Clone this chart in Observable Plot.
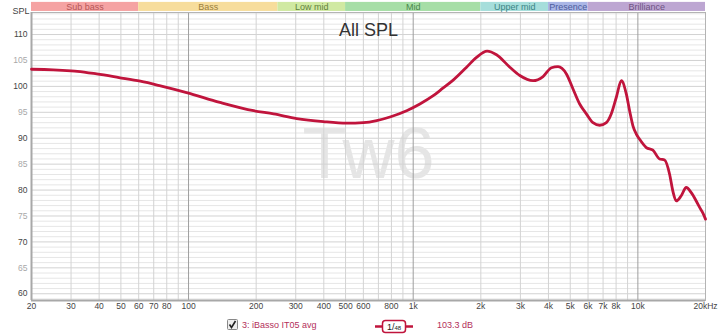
<!DOCTYPE html>
<html>
<head>
<meta charset="utf-8">
<script src="https://cdn.jsdelivr.net/npm/d3@7"></script>
<script src="https://cdn.jsdelivr.net/npm/@observablehq/plot@0.6"></script>
<style>
  body { margin: 0; background: #fff; font-family: "Liberation Sans", Arial, sans-serif; }
  #wrap { position: relative; width: 720px; height: 336px; overflow: hidden; }
  #legend { position: absolute; left: 0; top: 0; width: 720px; height: 336px; pointer-events: none; }
  .lg { position: absolute; font-size: 9px; color: #b3305a; white-space: nowrap; }
</style>
</head>
<body>
<div id="wrap"></div>
<script>
// ---- data ----
const freq = [20, 25, 30, 32, 39, 49, 61, 75, 98, 138, 195, 239, 303, 398, 506, 600, 688, 788, 935, 1071,
  1228, 1360, 1506, 1728, 1914, 2134, 2349, 2692, 2982, 3416, 3784, 4124, 4412, 4808, 5144, 5508, 5900,
  6312, 6762, 7240, 7617, 8020, 8441, 8886, 9188, 9506, 9841, 10178, 10900, 11666, 12492, 13148, 13836,
  14312, 14822, 15596, 16418, 17283, 18186, 18808, 19456, 20000];
const spl = [103.3, 103.2, 103.0, 102.9, 102.4, 101.7, 101.0, 100.1, 98.8, 96.9, 95.3, 94.7, 93.8, 93.2, 92.9,
  93.0, 93.4, 94.1, 95.3, 96.6, 98.2, 99.7, 101.2, 103.7, 105.6, 106.8, 106.1, 103.7, 102.1, 101.1, 101.9,
  103.6, 103.8, 102.4, 99.5, 96.6, 94.7, 93.0, 92.5, 93.0, 94.7, 97.9, 101.1, 98.5, 95.3, 92.4, 90.8, 89.8,
  88.2, 87.7, 86.0, 85.8, 83.1, 79.8, 77.9, 78.9, 80.5, 79.5, 77.9, 76.7, 75.6, 74.4];

const xTicks = [20, 30, 40, 50, 60, 70, 80, 100, 200, 300, 400, 500, 600, 800, 1000, 2000, 3000, 4000, 5000, 6000, 7000, 8000, 10000, 20000];
const xTickLabels = ["20", "30", "40", "50", "60", "70", "80", "100", "200", "300", "400", "500", "600", "800", "1k", "2k", "3k", "4k", "5k", "6k", "7k", "8k", "10k", "20kHz"];
const yTicks = [60, 65, 70, 75, 80, 85, 90, 95, 100, 105, 110];
const gridFreqs = [20, 30, 40, 50, 60, 70, 80, 90, 200, 300, 400, 500, 600, 700, 800, 900,
  2000, 3000, 4000, 5000, 6000, 7000, 8000, 9000, 20000];
const majorFreqs = [100, 1000, 10000];

const bandNames = ["Sub bass", "Bass", "Low mid", "Mid", "Upper mid", "Presence", "Brilliance"];
const bandStart = [20, 60, 250, 500, 2000, 4000, 6000];
const bandEnd = [60, 250, 500, 2000, 4000, 6000, 20000];
const bandFill = ["#f5a3a3", "#f7dd9c", "#d0e9a2", "#a6dea6", "#a6dedb", "#aab6e6", "#bda6d2"];
const bandInk = ["#b55656", "#9a7f3c", "#61813a", "#4a874a", "#3b8584", "#4d5c9c", "#6e5282"];

const title = "All SPL";
const legendName = "3: iBasso IT05 avg";
const legendValue = "103.3 dB";
const watermark = "Tw6";

// ---- tables ----
const curve = freq.map((f, i) => ({f, spl: spl[i]}));
const bands = bandNames.map((name, i) => ({name, x1: bandStart[i], x2: bandEnd[i], fill: bandFill[i], ink: bandInk[i],
  xm: Math.sqrt(bandStart[i] * bandEnd[i])}));
const minorDb = d3.range(59, 115).filter(d => d % 5 !== 0);
const majorDb = d3.range(60, 115, 5);
const xt = xTicks.map((v, i) => ({v, label: xTickLabels[i]}));

const bandTop = 116.2, bandBottom = 114.45;

const chart = Plot.plot({
  width: 720,
  height: 336,
  marginTop: 12,
  marginBottom: 36,
  marginLeft: 31,
  marginRight: 15,
  style: {fontFamily: "'Liberation Sans', Arial, sans-serif", fontSize: "8.5px", background: "#fff", overflow: "visible"},
  x: {type: "log", domain: [20, 20000], axis: null},
  y: {domain: [58.7, 114.25], axis: null},
  marks: [
    Plot.text([watermark], {frameAnchor: "middle", text: d => d, fontSize: 72, fill: "#e5e5e5", dy: -2, fontFamily: "'Liberation Sans', Arial, sans-serif"}),
    Plot.ruleY(minorDb, {stroke: "#e6e6e6", strokeWidth: 1}),
    Plot.ruleY(majorDb, {stroke: "#d2d2d2", strokeWidth: 1}),
    Plot.ruleX(gridFreqs, {stroke: "#d3d3d3", strokeWidth: 1}),
    Plot.ruleX(majorFreqs, {stroke: "#9e9e9e", strokeWidth: 1}),
    Plot.frame({stroke: "#b4b4b4"}),
    Plot.ruleX([20], {stroke: "#a8a8a8", strokeWidth: 2}),
    Plot.ruleY([58.7], {stroke: "#a8a8a8", strokeWidth: 2}),
    // frequency bands
    Plot.rect(bands, {x1: "x1", x2: "x2", y1: () => bandBottom, y2: () => bandTop, fill: d => d.fill}),
    Plot.text(bands, {x: "xm", y: () => (bandTop + bandBottom) / 2, text: "name", fill: d => d.ink, fontSize: 9}),
    Plot.text(["SPL"], {frameAnchor: "top-left", text: d => d, dx: -19, dy: -5, fill: "#444", fontSize: 9}),
    // axis labels
    Plot.text(xt, {x: "v", text: "label", frameAnchor: "bottom", lineAnchor: "top", dy: 2, fill: "#444"}),
    Plot.text(yTicks.filter(d => d % 10 === 0), {y: d => d, text: d => String(d), frameAnchor: "left", textAnchor: "end", dx: -4, fill: "#444"}),
    Plot.text(yTicks.filter(d => d % 10 !== 0), {y: d => d, text: d => String(d), frameAnchor: "left", textAnchor: "end", dx: -4, fill: "#a8a8a8"}),
    // curve
    Plot.line(curve, {x: "f", y: "spl", stroke: "#c0143c", strokeWidth: 2.8, curve: "monotone-x"}),
    // title
    Plot.text([title], {frameAnchor: "top", text: d => d, dy: 11, fontSize: 18, fill: "#333"})
  ]
});

const wrap = document.getElementById("wrap");
wrap.appendChild(chart);

const legend = document.createElement("div");
legend.id = "legend";
legend.innerHTML = `
  <svg style="position:absolute;left:227px;top:319px" width="11" height="11">
    <rect x="0.5" y="0.5" width="10" height="10" rx="1" fill="#eee" stroke="#888"/>
    <path d="M2.5 5.5 L4.5 8.5 L8.5 2" fill="none" stroke="#222" stroke-width="1.6"/>
  </svg>
  <div class="lg" style="left:242px;top:320px">${legendName}</div>
  <svg style="position:absolute;left:374px;top:319px" width="40" height="15">
    <line x1="1" y1="7.5" x2="39" y2="7.5" stroke="#c0143c" stroke-width="2.5"/>
    <rect x="8.5" y="1.5" width="23" height="12" rx="3" fill="#fff" stroke="#c0143c" stroke-width="1.5"/>
    <text x="20" y="10.5" text-anchor="middle" font-size="9" fill="#222" font-family="Liberation Sans, Arial">1/<tspan font-size="6">48</tspan></text>
  </svg>
  <div class="lg" style="left:437px;top:320px">${legendValue}</div>`;
wrap.appendChild(legend);
</script>
</body>
</html>
